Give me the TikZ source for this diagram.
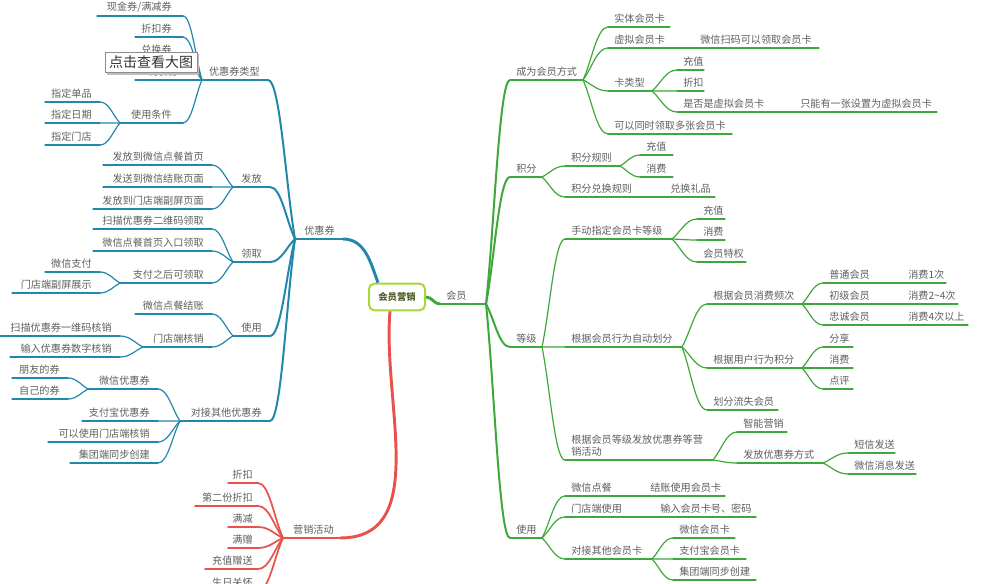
\documentclass[tikz,border=0pt]{standalone}
\usepackage{fontspec}
\setmainfont{Noto Sans CJK SC}
\usetikzlibrary{calc}
\definecolor{cg}{RGB}{62,168,58}
\definecolor{cb}{RGB}{35,135,172}
\definecolor{cr}{RGB}{232,82,76}
\definecolor{ctx}{RGB}{95,95,95}
\definecolor{croot}{RGB}{170,214,60}
\definecolor{croottx}{RGB}{80,95,40}
\tikzset{
 txt/.style={inner sep=0pt,text=ctx,font=\fontsize{7.6pt}{9.5pt}\selectfont},
 g1/.style={cg,line width=2.2pt},g2/.style={cg,line width=1.5pt},g3/.style={cg,line width=0.9pt},
 b1/.style={cb,line width=2.2pt},b2/.style={cb,line width=1.5pt},b3/.style={cb,line width=0.9pt},
 r1/.style={cr,line width=2.2pt},r3/.style={cr,line width=1.3pt},
}
\newcommand\mmR[7][6]{%
 \coordinate (#2-a) at (#4,#6);\coordinate (#2-b) at (#5,#6);
 \draw[#3,line cap=round] (#2-a)--(#2-b);
 \node[txt,anchor=south west,align=left] (#2) at ($(#2-a)+(#1,-3)$) {#7};}
\newcommand\mmL[7][8]{%
 \coordinate (#2-a) at (#4,#6);\coordinate (#2-b) at (#5,#6);
 \draw[#3,line cap=round] (#2-a)--(#2-b);
 \node[txt,anchor=south east] (#2) at ($(#2-b)+(-#1,-3)$) {#7};}
\newcommand\mcurve[3]{\draw[#1] (#2) .. controls ($(#2)!0.35!(#3)$) and ($(#2 |- #3)!0.55!(#3)$) .. (#3);}
\newcommand\cnR[3]{\mcurve{#1}{#2-b}{#3-a}}
\newcommand\cnL[3]{\mcurve{#1}{#2-a}{#3-b}}
\begin{document}
\begin{tikzpicture}[x=0.75pt,y=-0.75pt]
\useasboundingbox (0,0) rectangle (1000,584);
% root
\node[draw=croot,line width=1.5pt,rounded corners=4pt,fill=white,minimum width=42pt,minimum height=20pt,text=croottx,font=\fontsize{7pt}{8pt}\selectfont\bfseries,inner sep=2pt] (root) at (397,297) {会员营销};
% ===== right (green)
\mmR{hy}{g1}{440}{486}{304}{会员}
\draw[g1] (root.east) to[out=0,in=180] (hy-a);
\mmR{cw}{g2}{510}{583}{80}{成为会员方式}
\mmR{jf}{g2}{510}{542}{177}{积分}
\mmR{dj}{g2}{510}{542}{347}{等级}
\mmR{sy}{g2}{510}{542}{538}{使用}
\foreach \c in {cw,jf,dj,sy} {\cnR{g2}{hy}{\c}}
\mmR{st}{g3}{608}{670}{27}{实体会员卡}
\mmR{xn}{g3}{608}{669}{48}{虚拟会员卡}
\mmR[31]{wx}{g3}{669}{819}{48}{微信扫码可以领取会员卡}
\mmR{klx}{g3}{608}{652}{91}{卡类型}
\mmR{k1}{g3}{677}{704}{70}{充值}
\mmR{k2}{g3}{677}{704}{91}{折扣}
\mmR{k3}{g3}{677}{767}{112}{是否是虚拟会员卡}
\mmR[33]{k4}{g3}{767}{937}{112}{只能有一张设置为虚拟会员卡}
\mmR{dz}{g3}{608}{732}{134}{可以同时领取多张会员卡}
\foreach \c in {st,xn,klx,dz} {\cnR{g3}{cw}{\c}}
\foreach \c in {k1,k2,k3} {\cnR{g3}{klx}{\c}}
\mmR{gz}{g3}{565}{620}{166}{积分规则}
\mmR{gz1}{g3}{640}{673}{155}{充值}
\mmR{gz2}{g3}{640}{673}{177}{消费}
\mmR{dh}{g3}{565}{638}{197}{积分兑换规则}
\mmR[32]{dh1}{g3}{638}{715}{197}{兑换礼品}
\cnR{g3}{jf}{gz}\cnR{g3}{jf}{dh}\cnR{g3}{gz}{gz1}\cnR{g3}{gz}{gz2}
\mmR{sd}{g3}{565}{672}{239}{手动指定会员卡等级}
\mmR{sd1}{g3}{697}{725}{219}{充值}
\mmR{sd2}{g3}{697}{725}{240}{消费}
\mmR{sd3}{g3}{697}{746}{262}{会员特权}
\mmR{zd}{g3}{565}{682}{347}{根据会员行为自动划分}
\mmR{pc}{g3}{707}{802}{304}{根据会员消费频次}
\mmR{pt}{g3}{823}{873}{283}{普通会员}
\mmR[35]{pt1}{g3}{873}{946}{283}{消费1次}
\mmR{cj}{g3}{823}{873}{304}{初级会员}
\mmR[35]{cj1}{g3}{873}{958}{304}{消费2\textasciitilde4次}
\mmR{zc}{g3}{823}{873}{325}{忠诚会员}
\mmR[35]{zc1}{g3}{873}{968}{325}{消费4次以上}
\mmR{xw}{g3}{707}{802}{368}{根据用户行为积分}
\mmR{fx}{g3}{823}{853}{347}{分享}
\mmR{xf}{g3}{823}{853}{368}{消费}
\mmR{dp}{g3}{823}{853}{389}{点评}
\mmR{ls}{g3}{707}{778}{410}{划分流失会员}
\mmR{ff}{g3}{565}{713}{460}{根据会员等级发放优惠券等营\\销活动}
\mmR{zn}{g3}{737}{787}{432}{智能营销}
\mmR{fs}{g3}{737}{823}{463}{发放优惠券方式}
\mmR{dx}{g3}{848}{895}{453}{短信发送}
\mmR{wxx}{g3}{848}{916}{474}{微信消息发送}
\foreach \c in {sd,zd,ff} {\cnR{g3}{dj}{\c}}
\foreach \c in {sd1,sd2,sd3} {\cnR{g3}{sd}{\c}}
\foreach \c in {pc,xw,ls} {\cnR{g3}{zd}{\c}}
\foreach \c in {pt,cj,zc} {\cnR{g3}{pc}{\c}}
\foreach \c in {fx,xf,dp} {\cnR{g3}{xw}{\c}}
\cnR{g3}{ff}{zn}\cnR{g3}{ff}{fs}\cnR{g3}{fs}{dx}\cnR{g3}{fs}{wxx}
\mmR{dc}{g3}{565}{615}{496}{微信点餐}
\mmR[35]{dc1}{g3}{615}{725}{496}{结账使用会员卡}
\mmR{md}{g3}{565}{627}{517}{门店端使用}
\mmR[33]{md1}{g3}{627}{756}{517}{输入会员卡号、密码}
\mmR{dj2}{g3}{565}{652}{559}{对接其他会员卡}
\mmR{hk1}{g3}{673}{735}{538}{微信会员卡}
\mmR{hk2}{g3}{673}{746}{559}{支付宝会员卡}
\mmR{hk3}{g3}{673}{756}{580}{集团端同步创建}
\foreach \c in {dc,md,dj2} {\cnR{g3}{sy}{\c}}
\foreach \c in {hk1,hk2,hk3} {\cnR{g3}{dj2}{\c}}
% ===== left (blue)
\mmL{yhq}{b1}{295}{343}{239}{优惠券}
\draw[b1] ($(root.north west)+(10,0)$) to[out=110,in=0] (yhq-b);
\mmL{lx}{b2}{202}{268}{80}{优惠券类型}
\mmL{ff2}{b2}{233}{270}{187}{发放}
\mmL{lq}{b2}{233}{270}{262}{领取}
\mmL{sy2}{b2}{233}{270}{336}{使用}
\mmL{dj3}{b2}{180}{270}{421}{对接其他优惠券}
\foreach \c in {lx,ff2,lq,sy2,dj3} {\cnL{b2}{yhq}{\c}}
\mmL[11]{q1}{b3}{97}{183}{16}{现金券/满减券}
\mmL[11]{q2}{b3}{135}{183}{37}{折扣券}
\mmL[11]{q3}{b3}{135}{183}{58}{兑换券}
\mmL[11]{q4}{b3}{135}{190}{80}{特价券}
\mmL[11]{tj}{b3}{120}{183}{123}{使用条件}
\foreach \c in {q1,q2,q3,q4,tj} {\cnL{b3}{lx}{\c}}
\mmL{t1}{b3}{45}{100}{102}{指定单品}
\mmL{t2}{b3}{45}{100}{123}{指定日期}
\mmL{t3}{b3}{45}{100}{145}{指定门店}
\foreach \c in {t1,t2,t3} {\cnL{b3}{tj}{\c}}
\mmL{f1}{b3}{103}{212}{165}{发放到微信点餐首页}
\mmL{f2}{b3}{103}{212}{187}{发送到微信结账页面}
\mmL{f3}{b3}{93}{212}{209}{发放到门店端副屏页面}
\foreach \c in {f1,f2,f3} {\cnL{b3}{ff2}{\c}}
\mmL{l1}{b3}{93}{212}{229}{扫描优惠券二维码领取}
\mmL{l2}{b3}{93}{212}{251}{微信点餐首页入口领取}
\mmL{l3}{b3}{120}{212}{283}{支付之后可领取}
\foreach \c in {l1,l2,l3} {\cnL{b3}{lq}{\c}}
\mmL{l31}{b3}{45}{100}{272}{微信支付}
\mmL{l32}{b3}{12}{100}{293}{门店端副屏展示}
\cnL{b3}{l3}{l31}\cnL{b3}{l3}{l32}
\mmL{u1}{b3}{135}{212}{314}{微信点餐结账}
\mmL{u2}{b3}{143}{212}{347}{门店端核销}
\cnL{b3}{sy2}{u1}\cnL{b3}{sy2}{u2}
\mmL{u21}{b3}{0}{120}{336}{扫描优惠券一维码核销}
\mmL{u22}{b3}{10}{120}{357}{输入优惠券数字核销}
\cnL{b3}{u2}{u21}\cnL{b3}{u2}{u22}
\mmL{o1}{b3}{88}{158}{389}{微信优惠券}
\mmL{o2}{b3}{82}{158}{421}{支付宝优惠券}
\mmL{o3}{b3}{48}{158}{442}{可以使用门店端核销}
\mmL{o4}{b3}{70}{158}{463}{集团端同步创建}
\foreach \c in {o1,o2,o3,o4} {\cnL{b3}{dj3}{\c}}
\mmL{o11}{b3}{12}{68}{378}{朋友的券}
\mmL{o12}{b3}{12}{68}{399}{自己的券}
\cnL{b3}{o1}{o11}\cnL{b3}{o1}{o12}
% ===== red
\mmL[6]{yx}{r1}{283}{340}{538}{营销活动}
\draw[r1] ($(root.south west)+(22,0)$) to[out=-95,in=0] (yx-b);
\mmL[5]{h1}{r3}{228}{258}{483}{折扣}
\mmL[5]{h2}{r3}{195}{258}{506}{第二份折扣}
\mmL[5]{h3}{r3}{228}{258}{527}{满减}
\mmL[5]{h4}{r3}{228}{258}{548}{满赠}
\mmL[5]{h5}{r3}{205}{258}{569}{充值赠送}
\mmL[5]{h6}{r3}{205}{258}{591}{生日关怀}
\foreach \c in {h1,h2,h3,h4,h5,h6} {\cnL{r3}{yx}{\c}}
% tooltip overlay
\fill[black!25] (107,54) rectangle (199,75);
\node[draw=black!45,fill=white,line width=0.6pt,inner sep=0pt,minimum width=69pt,minimum height=15.5pt,font=\fontsize{10.5pt}{12pt}\selectfont,text=black!80] (tip) at (151,62.5) {点击查看大图};
\end{tikzpicture}
\end{document}
